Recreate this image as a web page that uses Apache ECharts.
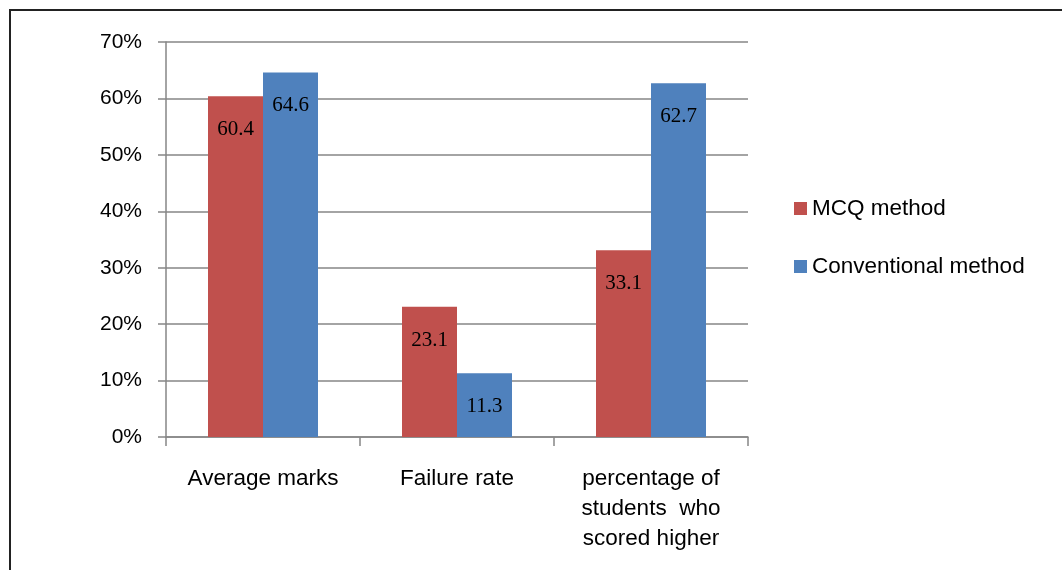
<!DOCTYPE html>
<html>
<head>
<meta charset="utf-8">
<title>MCQ vs Conventional</title>
<script src="https://cdn.jsdelivr.net/npm/echarts@6/dist/echarts.min.js"></script>
<style>
  html, body { margin: 0; padding: 0; background: #fff; }
  #chart { width: 1062px; height: 570px; }
</style>
</head>
<body>
<div id="chart"></div>
<script>
  // data
  var categories = ['Average marks', 'Failure rate', 'percentage of\nstudents  who\nscored higher'];
  var mcqValues = [60.4, 23.1, 33.1];
  var conventionalValues = [64.6, 11.3, 62.7];
  var seriesNames = ['MCQ method', 'Conventional method'];

  var sansFont = 'Liberation Sans';
  var serifFont = 'Liberation Serif';

  var myChart = echarts.init(document.getElementById('chart'));

  var barLabel = {
    show: true,
    position: 'insideTop',
    distance: 23,
    fontFamily: serifFont,
    fontSize: 21,
    color: '#000'
  };

  var option = {
    animation: false,
    color: ['#C0504D', '#4F81BD'],
    // frame round the chart
    graphic: [{
      type: 'rect',
      shape: { x: 10, y: 10, width: 1080, height: 600 },
      style: { fill: 'none', stroke: '#222', lineWidth: 2 },
      z: 100
    }],
    grid: { left: 166, right: 314, top: 42, bottom: 133 },
    legend: {
      orient: 'vertical',
      left: 789,
      top: 192,
      itemWidth: 13,
      itemHeight: 13,
      itemGap: 35,
      icon: 'rect',
      textStyle: { fontFamily: sansFont, fontSize: 22.5, color: '#000', lineHeight: 23 },
      data: seriesNames
    },
    xAxis: {
      type: 'category',
      data: categories,
      axisLine: { lineStyle: { color: '#868686', width: 1.5 } },
      axisTick: { show: true, length: 9, alignWithLabel: false, lineStyle: { color: '#868686', width: 1.5 } },
      axisLabel: {
        margin: 27,
        fontFamily: sansFont,
        fontSize: 22.5,
        lineHeight: 30,
        color: '#000',
        interval: 0
      }
    },
    yAxis: {
      type: 'value',
      min: 0,
      max: 70,
      interval: 10,
      axisLine: { show: true, lineStyle: { color: '#868686', width: 1.5 } },
      axisTick: { show: true, length: 8, lineStyle: { color: '#868686', width: 1.5 } },
      axisLabel: {
        formatter: '{value}%',
        margin: 24,
        fontFamily: sansFont,
        fontSize: 21,
        color: '#000'
      },
      splitLine: { lineStyle: { color: '#868686', width: 1.5 } }
    },
    series: [
      {
        name: seriesNames[0],
        type: 'bar',
        data: mcqValues,
        barWidth: 55,
        barGap: '0%',
        label: barLabel
      },
      {
        name: seriesNames[1],
        type: 'bar',
        data: conventionalValues,
        barWidth: 55,
        barGap: '0%',
        label: barLabel
      }
    ]
  };

  myChart.setOption(option);
</script>
</body>
</html>
